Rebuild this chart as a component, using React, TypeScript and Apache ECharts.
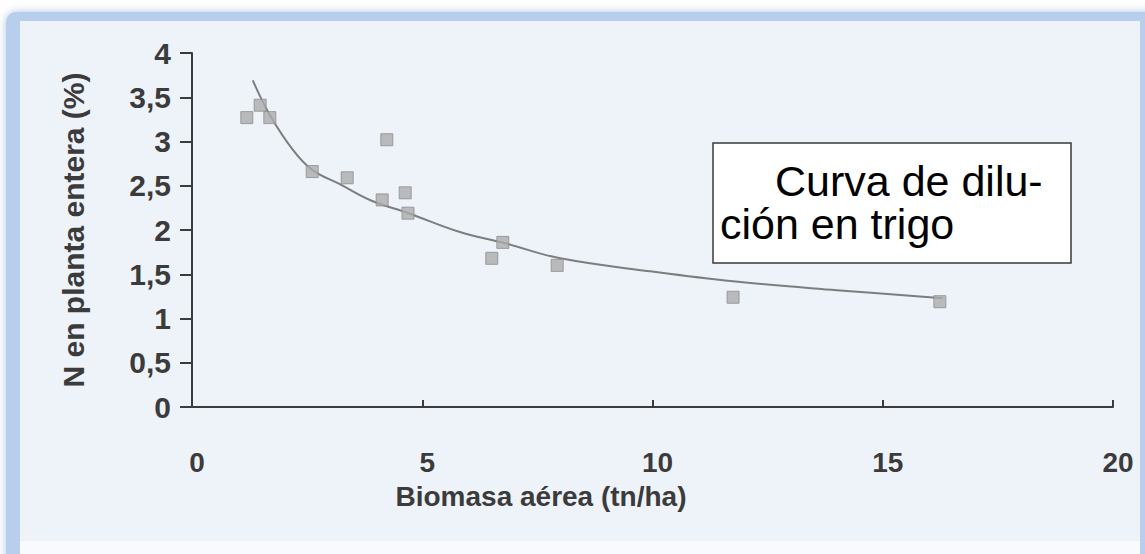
import React, { useEffect, useRef } from "react";
import * as echarts from "echarts";

// Axis ranges / ticks
const xMin = 0;
const xMax = 20;
const xStep = 5;
const yMin = 0;
const yMax = 4;
const yStep = 0.5;

// Measured samples (Biomasa aérea tn/ha, N %)
const sampleBiomass = [1.19, 1.48, 1.69, 2.61, 3.37, 4.23, 4.13, 4.63, 4.69, 6.75, 6.51, 7.93, 11.75, 16.24];
const sampleN = [3.27, 3.41, 3.27, 2.66, 2.59, 3.02, 2.34, 2.42, 2.19, 1.86, 1.68, 1.6, 1.24, 1.19];

// Dilution curve
const curveBiomass = [1.32, 1.69, 2.2, 2.61, 3.2, 3.9, 4.7, 5.8, 6.8, 8, 10, 11.75, 14, 16.3];
const curveN = [3.69, 3.3, 2.9, 2.68, 2.52, 2.33, 2.19, 1.98, 1.85, 1.68, 1.53, 1.42, 1.32, 1.23];

const xTitle = "Biomasa aérea (tn/ha)";
const yTitle = "N en planta entera (%)";
const boxLine1 = "Curva de dilu-";
const boxLine2 = "ción en trigo";

const W = 1145;
const H = 554;
const axisColor = "#3b3b3b";
const fontFam = "'Liberation Sans', Arial, Helvetica, sans-serif";

export default function App() {
  const ref = useRef<HTMLDivElement>(null);
  useEffect(() => {
    if (!ref.current) return;
    const chart = echarts.init(ref.current, undefined, { renderer: "svg", width: W, height: H });
    const scatterData = sampleBiomass.map((x, i) => [x, sampleN[i]]);
    const curveData = curveBiomass.map((x, i) => [x, curveN[i]]);
    const option: any = {
      animation: false,
      backgroundColor: "#ffffff",
      grid: { left: 192, right: 32, top: 53, bottom: 147, containLabel: false },
      xAxis: {
        type: "value",
        min: xMin,
        max: xMax,
        interval: xStep,
        axisLine: { show: true, onZero: false, lineStyle: { color: axisColor, width: 2 } },
        axisTick: { show: true, inside: true, length: 7, lineStyle: { color: axisColor, width: 2 } },
        axisLabel: {
          margin: 41,
          fontSize: 28,
          fontWeight: "bold",
          color: axisColor,
          fontFamily: fontFam,
          padding: [0, 0, 0, 10],
        },
        splitLine: { show: false },
      },
      yAxis: {
        type: "value",
        min: yMin,
        max: yMax,
        interval: yStep,
        name: yTitle,
        nameLocation: "middle",
        nameGap: 104,
        nameRotate: 90,
        nameTextStyle: { fontSize: 30, fontWeight: "bold", color: axisColor, fontFamily: fontFam },
        axisLine: { show: true, lineStyle: { color: axisColor, width: 2 } },
        axisTick: { show: true, inside: false, length: 12, lineStyle: { color: axisColor, width: 2 } },
        axisLabel: {
          margin: 21,
          fontSize: 30,
          fontWeight: "bold",
          color: axisColor,
          fontFamily: fontFam,
          formatter: (v: number) => String(v).replace(".", ","),
        },
        splitLine: { show: false },
      },
      graphic: [
        {
          type: "rect",
          z: -10,
          silent: true,
          shape: { x: 6, y: 12, width: W + 20, height: H + 20, r: 10 },
          style: { fill: "#b7cfec", shadowBlur: 8, shadowColor: "rgba(110,150,200,0.55)" },
        },
        {
          type: "rect",
          z: -9,
          silent: true,
          shape: { x: 20, y: 21, width: 1120, height: 520 },
          style: { fill: "#eef3fa" },
        },
        {
          type: "rect",
          z: -9,
          silent: true,
          shape: { x: 20, y: 541, width: 1120, height: 20 },
          style: { fill: "#f8fafd" },
        },
        {
          type: "text",
          x: 541,
          y: 496,
          style: {
            text: xTitle,
            textAlign: "center",
            textVerticalAlign: "middle",
            font: `bold 28px ${fontFam}`,
            fill: axisColor,
          },
        },
        {
          type: "rect",
          z: 10,
          shape: { x: 713, y: 143, width: 358, height: 120 },
          style: { fill: "#ffffff", stroke: "#3a3a3a", lineWidth: 1.5 },
        },
        {
          type: "text",
          z: 11,
          x: 775,
          y: 181,
          style: { text: boxLine1, textVerticalAlign: "middle", font: `43px ${fontFam}`, fill: "#000" },
        },
        {
          type: "text",
          z: 11,
          x: 720,
          y: 224,
          style: { text: boxLine2, textVerticalAlign: "middle", font: `43px ${fontFam}`, fill: "#000" },
        },
      ],
      series: [
        {
          type: "line",
          data: curveData,
          smooth: 0.4,
          showSymbol: false,
          lineStyle: { color: "#7d7d7d", width: 2 },
          z: 2,
        },
        {
          type: "scatter",
          data: scatterData,
          symbol: "rect",
          symbolSize: 12,
          itemStyle: { color: "#ababab", borderColor: "#8c8c8c", borderWidth: 1 },
          z: 3,
        },
      ],
    };
    chart.setOption(option);
    return () => chart.dispose();
  }, []);
  return (
    <div
      ref={ref}
      style={{ position: "fixed", left: 0, top: 0, width: W, height: H, overflow: "hidden" }}
    />
  );
}
